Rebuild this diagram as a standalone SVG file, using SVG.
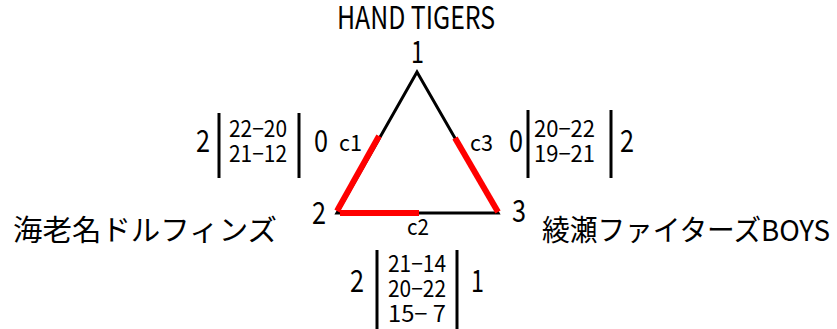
<svg xmlns="http://www.w3.org/2000/svg" width="837" height="329" viewBox="0 0 837 329">
<style>
text{font-family:"Noto Sans CJK JP","DejaVu Sans",sans-serif;fill:#000}
.big{font-size:31px}
.lbl{font-size:22px}
.sc{font-size:23px}
.jp{font-size:29px}
.bar{stroke:#000;stroke-width:3}
.red{stroke:#f00;stroke-width:6;fill:none}
</style>
<rect width="837" height="329" fill="#fff"/>
<g id="connectors">
<polygon points="417,72 337,213 498,213" fill="none" stroke="#000" stroke-width="3" stroke-linejoin="miter"/>
<line class="red" x1="337" y1="211" x2="379" y2="136"/>
<line class="red" x1="455" y1="138" x2="498" y2="212"/>
<line class="red" x1="340" y1="213" x2="419" y2="213"/>
<text class="lbl" x="339" y="151" textLength="23" lengthAdjust="spacingAndGlyphs">c1</text>
<text class="lbl" x="470" y="151" textLength="23" lengthAdjust="spacingAndGlyphs">c3</text>
<text class="lbl" x="407" y="235" textLength="22" lengthAdjust="spacingAndGlyphs">c2</text>
</g>
<g id="node1">
<text class="big" x="337" y="29" textLength="158" lengthAdjust="spacingAndGlyphs">HAND TIGERS</text>
<text class="big" x="411" y="63" textLength="13" lengthAdjust="spacingAndGlyphs">1</text>
</g>
<g id="node2">
<text class="jp" x="13" y="241" textLength="264" lengthAdjust="spacingAndGlyphs">海老名ドルフィンズ</text>
<text class="big" x="312" y="224" textLength="14" lengthAdjust="spacingAndGlyphs">2</text>
</g>
<g id="node3">
<text class="jp" x="542" y="241" textLength="288" lengthAdjust="spacingAndGlyphs">綾瀬ファイターズBOYS</text>
<text class="big" x="512" y="222" textLength="14" lengthAdjust="spacingAndGlyphs">3</text>
</g>
<g id="score12">
<text class="big" x="196" y="152" textLength="14" lengthAdjust="spacingAndGlyphs">2</text>
<line class="bar" x1="219" y1="113" x2="219" y2="178"/>
<text class="sc" x="229" y="136.5" textLength="58" lengthAdjust="spacingAndGlyphs">22−20</text>
<text class="sc" x="229" y="162" textLength="58" lengthAdjust="spacingAndGlyphs">21−12</text>
<line class="bar" x1="299" y1="113" x2="299" y2="178"/>
<text class="big" x="314" y="152" textLength="14" lengthAdjust="spacingAndGlyphs">0</text>
</g>
<g id="score13">
<text class="big" x="509" y="152" textLength="14" lengthAdjust="spacingAndGlyphs">0</text>
<line class="bar" x1="528" y1="110" x2="528" y2="178"/>
<text class="sc" x="534" y="136.5" textLength="61" lengthAdjust="spacingAndGlyphs">20−22</text>
<text class="sc" x="534" y="162" textLength="61" lengthAdjust="spacingAndGlyphs">19−21</text>
<line class="bar" x1="611" y1="110" x2="611" y2="178"/>
<text class="big" x="620" y="152" textLength="14" lengthAdjust="spacingAndGlyphs">2</text>
</g>
<g id="score23">
<text class="big" x="350" y="292" textLength="14" lengthAdjust="spacingAndGlyphs">2</text>
<line class="bar" x1="377" y1="250" x2="377" y2="329"/>
<text class="sc" x="388" y="272" textLength="58" lengthAdjust="spacingAndGlyphs">21−14</text>
<text class="sc" x="388" y="297" textLength="58" lengthAdjust="spacingAndGlyphs">20−22</text>
<text class="sc" x="388" y="322" textLength="58" lengthAdjust="spacingAndGlyphs">15− 7</text>
<line class="bar" x1="457" y1="250" x2="457" y2="329"/>
<text class="big" x="471" y="292" textLength="13" lengthAdjust="spacingAndGlyphs">1</text>
</g>
</svg>
